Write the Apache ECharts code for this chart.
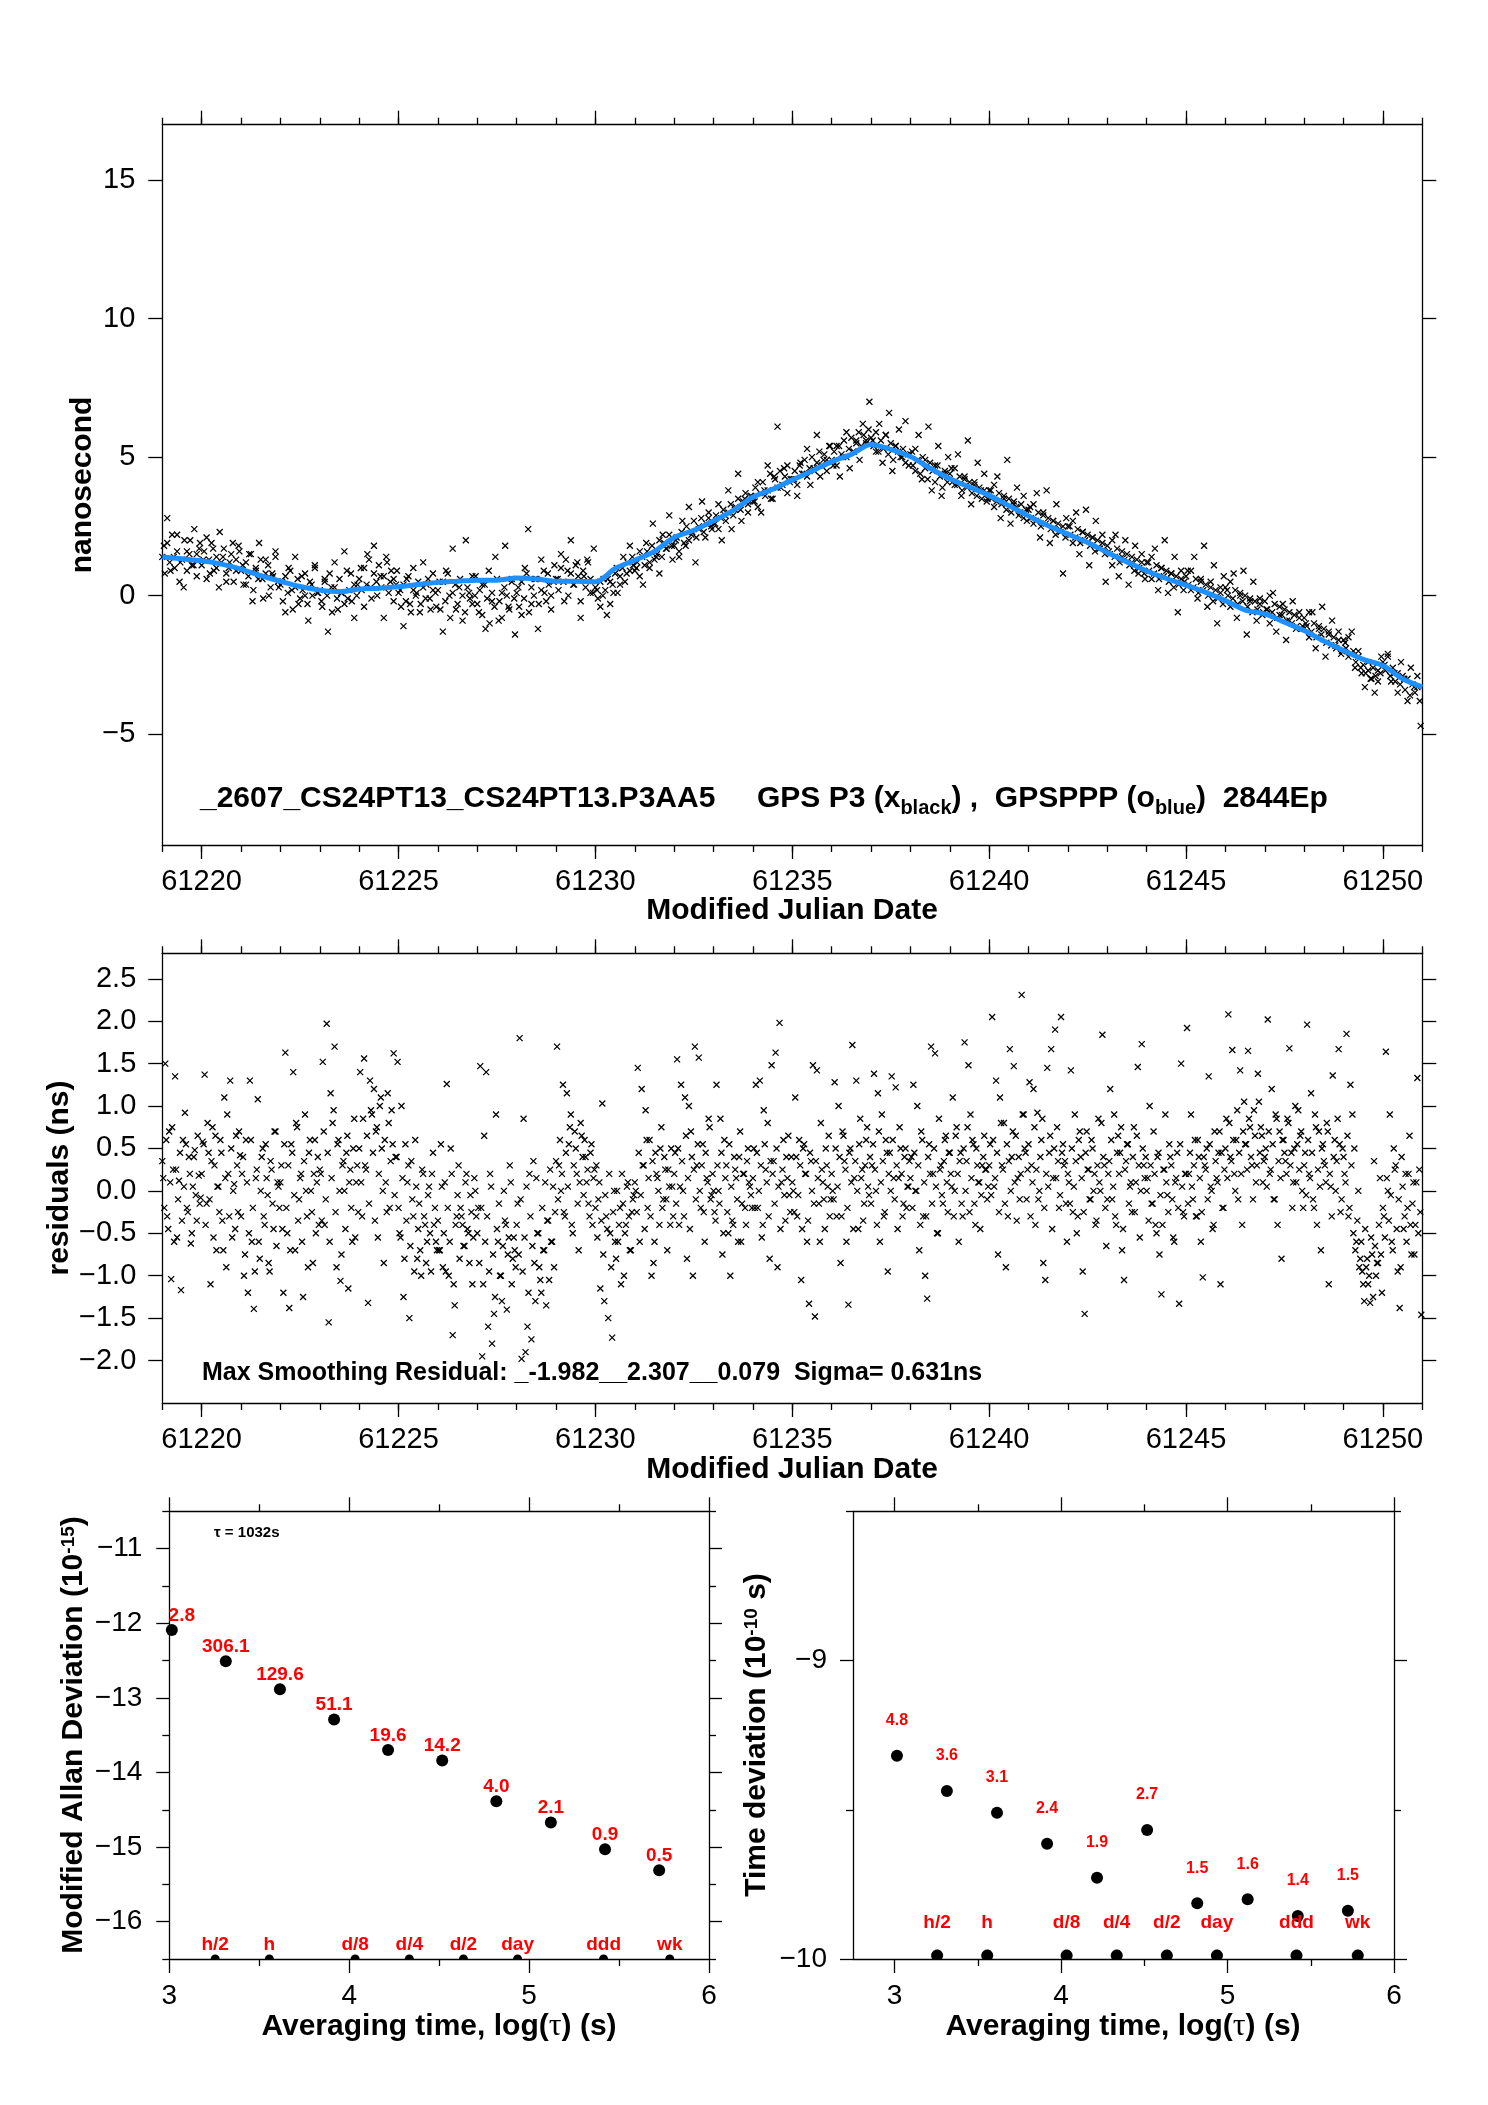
<!DOCTYPE html>
<html>
<head>
<meta charset="utf-8">
<title>_2607_CS24PT13 GPS P3</title>
<script src="https://cdn.jsdelivr.net/npm/echarts@6/dist/echarts.min.js"></script>
<style>
  html, body { margin: 0; padding: 0; background: #fff; }
  #main { width: 1488px; height: 2105px; }
</style>
</head>
<body>
<div id="main"></div>
<script>
// ---------------- values ----------------
var MJD_START = 61219;
var MJD_END = 61251;
var mjdTickLabels = [61220, 61225, 61230, 61235, 61240, 61245, 61250];

// smoothed GPSPPP curve (ns), one value every 0.5 day from MJD 61219
var smoothNs = [
  1.40, 1.33, 1.26, 1.14, 0.96, 0.72, 0.52, 0.33, 0.20, 0.14,
  0.24, 0.27, 0.32, 0.40, 0.48, 0.52, 0.56, 0.56, 0.64, 0.60,
  0.52, 0.52, 0.50, 0.98, 1.28, 1.60, 2.10, 2.36, 2.70, 3.08,
  3.56, 3.84, 4.18, 4.50, 4.84, 5.10, 5.46, 5.28, 5.02, 4.60,
  4.22, 3.92, 3.62, 3.25, 2.88, 2.52, 2.22, 1.92, 1.56, 1.22,
  0.89, 0.62, 0.38, 0.12, -0.18, -0.52, -0.66, -0.96, -1.26, -1.64,
  -1.98, -2.30, -2.52, -3.00, -3.30
];

// GPS P3 raw offsets, units of 0.1 ns, one row per MJD day (first pass, 12 per day)
var rawTenthNsA = [
  [18, 28, 9, 14, 22, 12, 3, 16, 20, 11, 15, 19],          // 61219
  [13, 21, 8, 17, 10, 23, 14, 5, 12, 19, 9, 16],
  [11, 4, 15, -2, 9, 19, 6, 13, 0, 8, 16, 3],
  [5, -6, 10, 2, 14, -3, 7, 0, -9, 4, 11, 1],
  [-2, 6, -13, 3, 12, -5, 1, 16, -1, 8, -8, 4],
  [10, -4, 15, 3, 18, 0, 7, -8, 12, 5, -2, 9],            // 61224
  [2, -11, 6, -3, 10, 1, -6, 12, 4, -1, 8, -4],
  [5, -13, 9, 0, 17, -5, 3, -9, 20, 1, -3, 7],
  [-6, 4, -12, 9, -2, 14, -9, 1, 18, -4, 6, -14],
  [3, -7, 10, 24, -3, 6, -12, 13, 1, 8, -5, 11],
  [6, 15, -2, 9, 20, 4, 12, -8, 7, 13, 1, 17],             // 61229
  [2, -4, 6, -7, 5, 1, 10, 4, 14, 8, 18, 11],
  [10, 16, 4, 19, 12, 26, 14, 8, 22, 17, 29, 13],
  [20, 14, 27, 18, 32, 23, 12, 25, 34, 21, 28, 24],
  [26, 33, 20, 29, 38, 24, 31, 44, 27, 35, 30, 36],
  [34, 41, 30, 38, 47, 35, 43, 61, 39, 46, 37, 42],        // 61234
  [42, 36, 48, 44, 53, 40, 46, 58, 43, 49, 45, 54],
  [47, 54, 43, 50, 59, 46, 52, 56, 49, 62, 55, 70],
  [56, 52, 62, 48, 58, 66, 45, 54, 60, 50, 63, 47],
  [52, 45, 58, 42, 49, 61, 38, 47, 54, 36, 44, 50],
  [46, 40, 51, 36, 43, 56, 33, 41, 48, 38, 44, 35],        // 61239
  [38, 32, 43, 28, 35, 49, 26, 33, 39, 30, 36, 27],
  [32, 26, 37, 21, 30, 38, 19, 27, 33, 24, 8, 28],
  [25, 19, 30, 15, 23, 31, 11, 21, 27, 17, 22, 5],
  [16, 11, 22, 7, 14, 20, 4, 12, 18, 8, 15, 6],
  [12, 6, 17, 2, 10, 20, 1, 8, 14, -6, 9, 5],              // 61244
  [9, 2, 14, -1, 6, 18, -4, 5, 11, -10, 3, 7],
  [2, -4, 8, -8, 0, 9, -14, -2, 5, -9, -1, -6],
  [-5, -10, 1, -13, -7, -3, -16, -9, -2, -12, -6, -11],
  [-10, -15, -6, -19, -12, -4, -22, -14, -9, -18, -13, -20],
  [-17, -22, -13, -26, -20, -28, -33, -24, -30, -35, -27, -22], // 61249
  [-25, -21, -31, -28, -35, -24, -30, -38, -26, -33, -29, -47]
];

// GPS P3 raw offsets, units of 0.1 ns, second pass (16 per day, the dense core of the band)
var rawTenthNsB = [
  [14, 8, 19, 12, 22, 10, 16, 5, 13, 20, 9, 15, 11, 24, 7, 17],        // 61219
  [11, 16, 6, 13, 19, 9, 14, 3, 12, 17, 8, 10, 15, 5, 13, 18],
  [9, 4, 12, 7, 15, 2, 10, 6, 13, -1, 8, 11, 3, 7, 14, 5],
  [4, -2, 7, 1, 9, -5, 3, 6, -1, 2, 8, -3, 5, 0, 10, 1],
  [2, -4, 5, 0, 8, -6, 3, -1, 6, 1, -3, 9, 2, -2, 4, 0],
  [6, 2, 10, 4, 13, -1, 8, 5, 11, 3, 7, 14, 1, 9, 6, 4],               // 61224
  [1, -4, 4, -2, 7, -6, 2, 0, 5, -3, 3, -1, 6, -5, 2, 1],
  [2, -5, 5, -2, 8, -8, 1, 4, -3, 6, 0, -6, 3, -1, 7, 0],
  [-3, 2, -7, 4, -1, -10, 1, -4, 6, -2, -8, 3, 0, -5, 5, -1],
  [1, -4, 5, -1, 8, -6, 3, 0, 6, -3, 2, 9, -2, 4, 0, 5],
  [6, 2, 10, 5, 13, 0, 8, 4, 11, 7, -2, 9, 3, 12, 6, 1],               // 61229
  [3, -1, 5, 0, 2, 6, -3, 4, 8, 1, 7, 10, 5, 12, 9, 14],
  [9, 12, 7, 14, 11, 16, 10, 18, 13, 15, 20, 14, 19, 17, 22, 18],
  [18, 21, 16, 23, 19, 25, 20, 22, 27, 21, 24, 28, 23, 26, 30, 25],
  [26, 29, 24, 28, 31, 27, 30, 33, 29, 32, 35, 31, 34, 37, 33, 36],
  [34, 39, 32, 37, 41, 36, 38, 44, 35, 42, 39, 45, 40, 43, 47, 41],    // 61234
  [42, 45, 40, 47, 44, 49, 43, 46, 50, 45, 48, 52, 47, 51, 49, 54],
  [49, 52, 47, 54, 51, 56, 50, 53, 57, 52, 55, 59, 54, 58, 56, 60],
  [57, 54, 59, 52, 56, 53, 58, 51, 55, 49, 54, 52, 50, 53, 48, 51],
  [51, 47, 53, 49, 44, 50, 46, 42, 48, 45, 41, 47, 43, 39, 45, 41],
  [44, 41, 46, 40, 43, 38, 42, 39, 41, 37, 40, 36, 39, 35, 38, 34],    // 61239
  [38, 35, 40, 34, 37, 33, 36, 31, 35, 30, 34, 32, 29, 33, 28, 31],
  [31, 28, 33, 27, 30, 25, 29, 26, 28, 24, 27, 22, 26, 23, 25, 21],
  [25, 22, 27, 21, 24, 19, 23, 20, 22, 18, 21, 16, 20, 17, 19, 15],
  [18, 15, 20, 14, 17, 12, 16, 13, 15, 11, 14, 9, 13, 10, 12, 8],
  [12, 9, 14, 8, 11, 6, 10, 7, 9, 5, 8, 3, 7, 4, 6, 2],                // 61244
  [7, 4, 9, 3, 6, 1, 5, 2, 4, 0, 3, -2, 2, -1, 1, -3],
  [3, 0, 5, -1, 2, -3, 1, -2, 0, -4, -1, -6, -2, -5, -3, -7],
  [-2, -5, 0, -6, -3, -8, -4, -7, -5, -9, -6, -10, -7, -11, -8, -12],
  [-8, -11, -6, -13, -10, -15, -11, -14, -12, -17, -13, -18, -15, -19, -16, -21],
  [-16, -19, -15, -21, -20, -24, -22, -26, -25, -28, -27, -30, -26, -29, -31, -28], // 61249
  [-24, -27, -22, -29, -26, -31, -28, -32, -29, -34, -30, -36, -32, -35, -33, -38]
];

// smoothing residuals, units of 0.01 ns, one row per MJD day (first pass, 20 per day)
var residHundredthNsA = [
  [15, 150, -30, 70, -104, 25, 135, -55, 12, -117, 60, 92, -20, 40, -62, 5, 48, -35, 18, -8],      // 61219
  [58, 137, -15, 45, -110, 75, 30, -70, 5, 60, -35, 110, -90, 20, 130, -55, 8, 65, -25, 42],
  [20, -100, 60, -120, 130, -60, -139, 15, 108, -80, 40, -30, 55, -5, -95, 25, -45, 70, 10, -20],
  [30, -120, 163, -50, -138, 55, 140, -70, 75, -10, 20, -125, 90, -30, 45, 0, -85, 60, 10, -40],
  [20, 152, -40, 197, -155, 115, 80, 170, -90, 60, -106, 30, 0, 45, -115, 25, -60, 85, 10, -25],
  [140, -30, 156, 25, -132, 130, 90, 120, 70, -55, 100, 50, -85, 10, 115, -20, 95, 162, 40, 152],   // 61224
  [-50, 100, -125, 55, 10, -150, 35, -30, 60, -80, -15, -100, 20, -40, -60, 5, -95, 45, -20, -70],
  [-70, 55, -90, 10, 126, -100, 50, -170, -135, -30, 30, -20, -40, -65, 20, -50, -5, -110, 15, -30],
  [-20, 147, -195, 65, 140, -160, 20, -180, -145, 90, -60, -100, -130, 0, -40, -75, 30, -110, -55, -90],
  [-15, 180, -198, 85, -190, -160, 20, -175, 35, -130, -50, -90, -120, -70, 10, -35, -105, -60, 5, -25],
  [170, 30, 0, 125, -30, 115, 55, 90, -50, 70, 20, -70, 80, 40, 60, 10, -15, 45, -40, 25],          // 61229
  [30, -10, -115, 103, -130, -30, -150, -50, -173, 0, -80, -60, -20, 20, -100, -40, 10, -70, -25, -5],
  [0, 145, -60, 120, 30, 95, -20, 60, -100, -85, 45, 15, -40, 75, -10, 25, -70, 5, 50, -30],
  [45, 155, -40, 125, 0, 110, -80, 100, 70, -100, 170, 30, 157, -20, 55, -60, 15, 85, -10, 20],
  [-25, 125, 0, 85, -75, 60, 30, -50, -100, -35, 40, 15, -60, 70, -15, 20, -40, 50, 5, -20],
  [50, 125, -20, 130, -55, 95, 25, 80, -80, 148, 35, 163, -90, 198, 10, 60, -35, 15, -5, 40],        // 61234
  [0, 110, -30, 60, -105, 50, 20, -60, -133, 35, 148, -148, 142, -15, 80, 10, -45, 30, 65, -10],
  [0, 128, -30, 100, -85, 70, 35, -60, -134, 50, 172, 15, 130, -45, 85, 25, -15, 60, 5, 40],
  [30, 138, 0, 115, -60, 90, -30, 60, -95, 45, 135, 15, 122, -45, 75, 20, -15, 50, 5, 35],
  [40, 125, 0, 100, -70, 70, -30, -100, -127, 55, 170, 20, 162, -50, 85, 30, -15, 60, 10, 45],
  [20, 110, 0, 75, -60, 45, -30, 175, 35, 148, 90, 60, -15, 50, 10, -45, 30, 65, 25, 5],             // 61239
  [55, 205, 5, 130, -75, 110, 30, 80, -90, -30, 167, 40, 147, 65, 15, -10, 231, 90, 45, 25],
  [128, 30, 120, -40, 92, 0, 60, -85, -105, 145, 45, 167, 15, 190, 75, -20, 205, 55, 35, -60],
  [10, 142, -25, 90, -50, 60, 40, -95, -145, 70, 25, -10, 50, 20, -35, 85, 0, 184, 30, -65],
  [20, 120, -10, 90, -40, 65, 45, -70, -105, 35, 55, 5, -25, 75, 10, 146, -55, 173, 30, 40],
  [15, 100, -15, 70, -40, 40, -75, -122, 25, 90, -5, 55, 30, -55, 10, 45, -133, 150, -25, 20],      // 61244
  [192, 20, 90, -10, 60, -30, 40, -60, -102, 30, 50, 135, 5, -45, 70, 15, 45, -110, -20, 25],
  [85, 208, 40, 166, 20, 60, -10, 142, -40, 105, 55, 165, 75, 30, 95, 10, 138, 45, 65, 35],
  [50, 202, 20, 120, -10, 90, -40, 70, -80, 60, 35, 85, 168, 45, 10, 100, 55, 25, 70, -20],
  [45, 196, 20, 115, -10, 90, -40, 70, -70, 55, 30, 80, -110, 5, 136, 60, 35, 167, -25, 50],
  [20, 185, -30, 125, 90, 50, -60, 0, -80, -95, -130, -90, -110, -132, -75, 35, -100, -85, 15, -120], // 61249
  [-30, 164, 0, 90, -60, 50, 30, -95, -138, 40, -45, 20, -20, 65, -75, 10, -40, 133, 25, -146]
];

// smoothing residuals, units of 0.01 ns, second pass (20 per day, the dense core of the band)
var residHundredthNsB = [
  [35, -20, 60, -45, 10, 75, -60, 25, -10, 45, -35, 5, 55, -25, 20, -50, 40, -5, 65, -15],      // 61219
  [20, 55, -40, 80, -10, 35, -55, 65, 5, -25, 45, -70, 15, 90, -30, 50, 0, -45, 30, 70],
  [-30, 40, -75, 10, -50, 60, -20, -95, 25, -60, 0, 50, -40, 15, -85, 35, -15, 70, -65, 5],
  [10, -45, 55, -20, 30, -70, 45, -5, 80, -35, 15, -60, 35, 0, -90, 60, -25, 20, -50, 40],
  [25, -35, 70, -10, 45, -60, 15, 95, -25, 55, 0, -75, 35, -45, 65, 10, -20, 50, -55, 30],
  [50, 10, 85, 30, 65, -15, 95, 45, -35, 75, 20, 110, 0, 60, -25, 80, 35, 55, -5, 40],          // 61224
  [-20, -55, 15, -80, -35, 30, -65, -10, -95, 5, -45, -70, 25, -30, -85, -5, -50, 20, -40, -60],
  [-35, -70, 5, -50, -95, -20, -60, 20, -110, -40, -5, -80, -30, -65, 10, -45, -85, -25, -55, 0],
  [-50, -85, -20, -110, -60, -30, -95, 5, -75, -125, -45, -15, -100, -65, -35, -140, -55, 10, -80, -70],
  [-40, -75, -10, -95, -55, 5, -120, -30, -65, -85, 15, -50, -105, -20, -70, -135, -35, 25, -60, -90],
  [35, -10, 60, 20, -25, 45, 5, 75, -40, 30, 50, -15, 10, 65, -5, 40, 25, -30, 55, 15],          // 61229
  [-20, -55, 10, -35, -75, -5, -45, 20, -90, -25, -60, 0, -40, -110, -15, -50, 5, -30, -70, -10],
  [10, -25, 45, -5, 30, -45, 60, 15, -30, 35, -60, 20, 0, 50, -20, 40, -10, 25, -40, 5],
  [20, -15, 50, 5, 35, -30, 65, 15, -45, 40, 25, -10, 55, 0, 30, -25, 45, 10, 75, -5],
  [0, -35, 30, -15, 45, -50, 15, -25, 55, 5, -40, 25, -10, 40, -60, 20, -20, 35, 10, -5],
  [15, -20, 45, 0, 30, -40, 55, 10, -30, 35, 20, -15, 50, 5, -45, 25, -5, 40, 65, -25],          // 61234
  [10, -25, 40, -5, 30, -45, 55, 20, -35, 45, 0, -15, 35, 15, -60, 25, -10, 50, 5, -30],
  [20, -10, 50, 5, 40, -30, 65, 25, -20, 45, 10, -45, 35, 0, 55, 15, -35, 30, 75, -5],
  [-15, 55, 25, -40, 70, 10, 35, -25, 45, 20, 0, 60, -10, 30, 15, 50, -30, 40, -20, 5],
  [15, -20, 45, 0, 30, -40, 60, 10, -30, 40, 20, -15, 50, 5, -50, 25, -5, 35, 65, -25],
  [45, 5, -30, 65, 20, 35, -15, 50, 0, 75, -25, 15, 55, -40, 30, 10, -5, 40, 25, -10],          // 61239
  [30, -5, 60, 15, 45, -25, 80, 25, -15, 55, 35, 0, 70, 10, -35, 40, 20, 90, 50, -10],
  [55, -30, 10, 75, 25, -10, 40, 85, -20, 20, 5, 65, -45, 50, 15, 35, -5, 45, 30, -15],
  [20, -15, 50, 5, 35, -30, 70, 15, -25, 45, 25, -10, 60, 0, -40, 30, 10, 80, 40, -20],
  [-10, 35, 60, 5, -30, 45, 20, 75, -45, 25, 55, -15, 10, 40, -25, 65, 30, 0, 50, 15],
  [0, -35, 30, -15, 20, -50, 45, -5, -40, 25, 10, -25, 40, -10, -60, 15, -20, 55, 5, -30],      // 61244
  [20, -15, 45, 5, 30, -30, 60, 15, -25, 40, 25, -10, 55, 0, -40, 35, 10, 70, 45, -20],
  [50, 15, 80, 35, 60, 0, 95, 45, 20, 70, 55, 25, 85, 40, -10, 65, 30, 105, 75, 10],
  [40, 5, 70, 25, 55, -10, 85, 35, 15, 60, 45, 20, 80, 30, -20, 50, 10, 95, 65, 0],
  [30, -5, 60, 15, 45, -20, 75, 25, 5, 50, 35, 10, 70, 20, -30, 40, 0, 85, 55, -10],
  [40, 10, 65, -20, 30, -50, -70, -35, -90, -60, -110, -45, -80, -100, -55, -125, -65, -85, -40, -75], // 61249
  [-20, -55, 15, -35, -5, -70, 25, -45, -10, -90, 5, -30, -60, 20, -40, -15, -75, 10, -50, -25]
];

// stability: log10(tau) and log10 of MDEV / TDEV
var logTau = [3.014, 3.314, 3.615, 3.916, 4.216, 4.517, 4.818, 5.121, 5.422, 5.723];
var logMdev = [-12.09, -12.51, -12.885, -13.29, -13.70, -13.84, -14.385, -14.67, -15.03, -15.31];
var mdevLabels = ['2.8', '306.1', '129.6', '51.1', '19.6', '14.2', '4.0', '2.1', '0.9', '0.5'];
var logTdev = [-9.319, -9.437, -9.510, -9.614, -9.728, -9.568, -9.813, -9.800, -9.856, -9.838];
var tdevLabels = ['4.8', '3.6', '3.1', '2.4', '1.9', '2.7', '1.5', '1.6', '1.4', '1.5'];
var spanNames = ['h/2', 'h', 'd/8', 'd/4', 'd/2', 'day', 'ddd', 'wk'];
var spanLogTau = [3.255, 3.556, 4.033, 4.334, 4.635, 4.936, 5.414, 5.782];

// ---------------- build the chart ----------------
var FONT = "'Liberation Sans', Arial, Helvetica, sans-serif";
var RED = '#ff0000';
var BLUE = '#1e90ff';
var lineStyle = { color: '#000', width: 1.3 };

function minus(v) { return String(v).replace('-', '\u2212'); }
function oneDec(v) { return v.toFixed(1).replace('-', '\u2212'); }
function steps(a, b, s) {
  var out = [];
  for (var v = a; v <= b + 1e-9; v += s) out.push(Math.round(v * 1000) / 1000);
  return out;
}

function axis(g, pos, min, max, ticks, len, labels, fmt, margin, fontSize, showLine) {
  return {
    gridIndex: g, type: 'value', position: pos, min: min, max: max,
    axisLine: { show: showLine, onZero: false, lineStyle: lineStyle },
    axisTick: { show: true, inside: false, length: len, customValues: ticks, lineStyle: lineStyle },
    axisLabel: labels ? {
      show: true, customValues: labels, formatter: fmt, margin: margin,
      fontSize: fontSize, fontFamily: FONT, color: '#000'
    } : { show: false },
    splitLine: { show: false },
    minorTick: { show: false }
  };
}

var dayTicks = steps(MJD_START, MJD_END, 1);
var xAxes = [], yAxes = [];
[0, 1].forEach(function (g) {
  xAxes.push(axis(g, 'bottom', MJD_START, MJD_END, dayTicks, 7, mjdTickLabels, String, 22, 29, true));
  xAxes.push(axis(g, 'bottom', MJD_START, MJD_END, mjdTickLabels, 14, null, null, 0, 0, false));
  xAxes.push(axis(g, 'top', MJD_START, MJD_END, dayTicks, 7, null, null, 0, 0, true));
  xAxes.push(axis(g, 'top', MJD_START, MJD_END, mjdTickLabels, 14, null, null, 0, 0, false));
});
[[2, 3], [3, 2.75]].forEach(function (p) {
  var g = p[0], xmin = p[1];
  xAxes.push(axis(g, 'bottom', xmin, 6, [3, 4, 5, 6], 14, [3, 4, 5, 6], String, 23, 28, true));
  xAxes.push(axis(g, 'bottom', xmin, 6, [3.5, 4.5, 5.5], 7, null, null, 0, 0, false));
  xAxes.push(axis(g, 'top', xmin, 6, [3, 4, 5, 6], 14, null, null, 0, 0, true));
  xAxes.push(axis(g, 'top', xmin, 6, [3.5, 4.5, 5.5], 7, null, null, 0, 0, false));
});

var nsTicks = [-5, 0, 5, 10, 15];
yAxes.push(axis(0, 'left', -9, 17, nsTicks, 14, nsTicks, minus, 27, 29, true));
yAxes.push(axis(0, 'right', -9, 17, nsTicks, 14, null, null, 0, 0, true));
var resTicks = steps(-2, 2.5, 0.5);
yAxes.push(axis(1, 'left', -2.5, 2.8, resTicks, 14, resTicks, oneDec, 26, 29, true));
yAxes.push(axis(1, 'right', -2.5, 2.8, resTicks, 14, null, null, 0, 0, true));
var mdevMajor = [-16, -15, -14, -13, -12, -11];
var mdevMinor = steps(-16.5, -10.5, 1);
yAxes.push(axis(2, 'left', -16.5, -10.5, mdevMajor, 13, mdevMajor, minus, 27, 28, true));
yAxes.push(axis(2, 'left', -16.5, -10.5, mdevMinor, 7, null, null, 0, 0, false));
yAxes.push(axis(2, 'right', -16.5, -10.5, mdevMajor, 13, null, null, 0, 0, true));
yAxes.push(axis(2, 'right', -16.5, -10.5, mdevMinor, 7, null, null, 0, 0, false));
yAxes.push(axis(3, 'left', -10, -8.5, [-10, -9], 13, [-10, -9], minus, 26, 28, true));
yAxes.push(axis(3, 'left', -10, -8.5, [-9.5, -8.5], 7, null, null, 0, 0, false));
yAxes.push(axis(3, 'right', -10, -8.5, [-10, -9], 13, null, null, 0, 0, true));
yAxes.push(axis(3, 'right', -10, -8.5, [-9.5, -8.5], 7, null, null, 0, 0, false));

// series data tables: row d = MJD day, column k = sample within that day
function dayRows(rows, scale, shift, out) {
  rows.forEach(function (row, d) {
    row.forEach(function (v, k) {
      out.push([MJD_START + d + (k + shift) / row.length, v / scale]);
    });
  });
  return out;
}
var rawPts = dayRows(rawTenthNsB, 10, 0, dayRows(rawTenthNsA, 10, 0.5, []));
var residPts = dayRows(residHundredthNsB, 100, 0, dayRows(residHundredthNsA, 100, 0.5, []));
var smoothPts = smoothNs.map(function (v, i) { return [MJD_START + i * 0.5, v]; });

var XMARK = 'path://M0,0L10,10M10,0L0,10';
var HALFDOT = 'path://M0,5A5,5 0 0 1 10,5Z';
var CUTDOT = 'path://M1.13,9.5A6,6 0 1 1 10.87,9.5Z';

var mdevData = logTau.map(function (x, i) {
  var item = { value: [x, logMdev[i]] };
  if (i === 0) item.label = { offset: [10, 0] };
  return item;
});
var tdevData = logTau.map(function (x, i) { return [x, logTdev[i]]; });

var redLabel = function (list, size, dist) {
  return {
    show: true, position: 'top', distance: dist, color: RED, fontWeight: 'bold',
    fontSize: size, fontFamily: FONT, opacity: 1,
    formatter: function (p) { return list[p.dataIndex]; }
  };
};
var xStyle = { color: 'none', borderColor: '#000', borderWidth: 1.25, opacity: 1 };
var dotStyle = { color: '#000', opacity: 1 };

var series = [
  {
    type: 'scatter', xAxisIndex: 0, yAxisIndex: 0, data: rawPts, symbol: XMARK, symbolSize: 6,
    itemStyle: xStyle, z: 2, silent: true
  },
  {
    type: 'line', xAxisIndex: 0, yAxisIndex: 0, data: smoothPts, showSymbol: false, smooth: 0.3,
    lineStyle: { color: BLUE, width: 5 }, z: 3, silent: true
  },
  {
    type: 'scatter', xAxisIndex: 4, yAxisIndex: 2, data: residPts, symbol: XMARK, symbolSize: 6,
    itemStyle: xStyle, z: 2, silent: true
  },
  {
    type: 'scatter', xAxisIndex: 8, yAxisIndex: 4, data: mdevData, symbol: 'circle', symbolSize: 12,
    itemStyle: dotStyle, label: redLabel(mdevLabels, 19, -1), silent: true
  },
  {
    type: 'scatter', xAxisIndex: 8, yAxisIndex: 4, symbol: HALFDOT, symbolSize: [9, 4.5],
    symbolOffset: [0, '-50%'],
    data: spanLogTau.map(function (x) { return [x, -16.5]; }),
    itemStyle: dotStyle, label: redLabel(spanNames, 19, 0), silent: true
  },
  {
    type: 'scatter', xAxisIndex: 12, yAxisIndex: 8, data: tdevData, symbol: 'circle', symbolSize: 12,
    itemStyle: dotStyle, label: redLabel(tdevLabels, 16, 21), silent: true
  },
  {
    type: 'scatter', xAxisIndex: 12, yAxisIndex: 8, symbol: CUTDOT, symbolSize: [12, 9.5],
    symbolOffset: [0, '-50%'],
    data: spanLogTau.map(function (x) { return [x, -10]; }),
    itemStyle: dotStyle, label: redLabel(spanNames, 19, 17), silent: true
  }
];

function bold(size) {
  return { fontSize: size, fontWeight: 'bold', fontFamily: FONT, fill: '#000' };
}
function label(x, y, text, size, rot) {
  var st = bold(size);
  st.text = text; st.align = 'center'; st.verticalAlign = 'middle';
  return { type: 'text', x: x, y: y, rotation: rot || 0, style: st, silent: true };
}
function supLabel(x, y, pre, sup, post) {
  return {
    type: 'text', x: x, y: y, rotation: Math.PI / 2, silent: true,
    style: {
      text: '{n|' + pre + '}{p|' + sup + '}{n|' + post + '}',
      align: 'center', verticalAlign: 'middle', fill: '#000',
      rich: {
        n: { fontSize: 30, fontWeight: 'bold', fontFamily: FONT, lineHeight: 30, padding: [4, 0, 0, 0], verticalAlign: 'bottom' },
        p: { fontSize: 19, fontWeight: 'bold', fontFamily: FONT, lineHeight: 20, verticalAlign: 'top' }
      }
    }
  };
}
function tauTitle(x, y) {
  return {
    type: 'text', x: x, y: y, silent: true,
    style: {
      text: '{n|Averaging time, log(}{t|\u03c4}{n|) (s)}',
      align: 'center', verticalAlign: 'middle', fill: '#000',
      rich: {
        n: { fontSize: 30, fontWeight: 'bold', fontFamily: FONT },
        t: { fontSize: 32, fontFamily: "'Liberation Serif', serif" }
      }
    }
  };
}

var graphic = [
  label(83, 485, 'nanosecond', 30, Math.PI / 2),
  label(792, 911, 'Modified Julian Date', 30),
  label(60, 1178, 'residuals (ns)', 30, Math.PI / 2),
  label(792, 1470, 'Modified Julian Date', 30),
  supLabel(74, 1735, 'Modified Allan Deviation (10', '-15', ')'),
  supLabel(757, 1735, 'Time deviation (10', '-10', ' s)'),
  tauTitle(439, 2027),
  tauTitle(1123, 2027),
  {
    type: 'text', x: 200, y: 784, silent: true,
    style: {
      text: '{n|_2607_CS24PT13_CS24PT13.P3AA5     GPS P3 (x}{s|black}{n|) ,  GPSPPP (o}{s|blue}{n|)  2844Ep}',
      align: 'left', verticalAlign: 'top', fill: '#000',
      rich: {
        n: { fontSize: 30, fontWeight: 'bold', fontFamily: FONT, lineHeight: 30, verticalAlign: 'top' },
        s: { fontSize: 20, fontWeight: 'bold', fontFamily: FONT, lineHeight: 20, padding: [14, 0, 0, 0], verticalAlign: 'top' }
      }
    }
  },
  {
    type: 'text', x: 202, y: 1373, silent: true,
    style: Object.assign(bold(25), {
      text: 'Max Smoothing Residual: _-1.982__2.307__0.079  Sigma= 0.631ns',
      align: 'left', verticalAlign: 'middle'
    })
  },
  {
    type: 'text', x: 214, y: 1533, silent: true,
    style: Object.assign(bold(15), { text: '\u03c4 = 1032s', align: 'left', verticalAlign: 'middle' })
  }
];

var grids = [
  { left: 162.3, top: 124.7, width: 1260, height: 720.3 },
  { left: 162.3, top: 953.3, width: 1260, height: 449.7 },
  { left: 169.3, top: 1511.3, width: 539.7, height: 447.7 },
  { left: 853, top: 1511.3, width: 541, height: 447.7 }
].map(function (g) { g.containLabel = false; g.outerBoundsMode = 'none'; return g; });

var chart = echarts.init(document.getElementById('main'), null, { renderer: 'canvas' });
chart.setOption({
  animation: false,
  backgroundColor: '#fff',
  textStyle: { fontFamily: FONT },
  grid: grids,
  xAxis: xAxes,
  yAxis: yAxes,
  series: series,
  graphic: graphic
});
</script>
</body>
</html>
